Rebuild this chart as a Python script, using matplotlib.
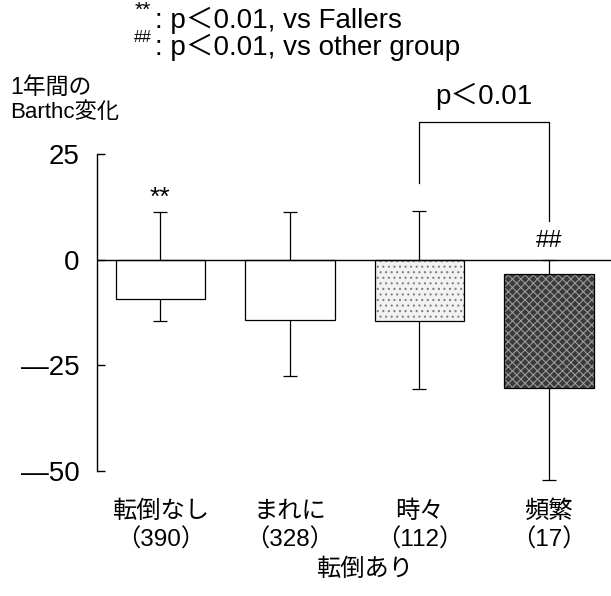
import matplotlib
matplotlib.use('Agg')
import matplotlib.pyplot as plt
import matplotlib.transforms as mtransforms
import numpy as np

plt.rcParams['font.family'] = ['Liberation Sans', 'Noto Sans CJK JP', 'DejaVu Sans']
plt.rcParams['hatch.linewidth'] = 0.8

# data
groups = ['転倒なし', 'まれに', '時々', '頻繁']
counts = ['（390）', '（328）', '（112）', '（17）']
bar_top = np.array([0, 0, 0, -3.4])
bar_bottom = np.array([-9.2, -14.2, -14.4, -30.3])
err_high = np.array([11.2, 11.3, 11.5, 0])
err_low = np.array([-14.6, -27.6, -30.7, -52.2])
y_ticks = [25, 0, -25, -50]
y_tick_labels = ['25', '0', '—25', '—50']
faces = ['white', 'white', '#f2f2f2', '#3a3a3a']
hatches = [None, None, '...', 'xxxx']
hatch_cols = ['white', 'white', '#808080', '#9a9a9a']

x = np.arange(len(groups))

fig = plt.figure(figsize=(6.11, 5.96), dpi=100)
ax = fig.add_axes([0.158, 0.2097, 0.842, 0.532])

# error bars sit behind the bars
eb = ax.errorbar(x, bar_bottom, yerr=[bar_bottom - err_low, err_high - bar_bottom],
                 fmt='none', ecolor='black', elinewidth=0.9, capsize=5, capthick=0.9, zorder=1)
for art in eb.lines[1] + eb.lines[2]:
    art.set_clip_on(False)
# fill with texture, then black outline on top
ax.bar(x, bar_bottom - bar_top, bottom=bar_top, width=0.69, color=faces,
       edgecolor=hatch_cols, linewidth=0, hatch=hatches, zorder=2)
ax.bar(x, bar_bottom - bar_top, bottom=bar_top, width=0.69, fill=False,
       edgecolor='black', linewidth=0.9, zorder=2.5)
ax.axhline(0, color='black', linewidth=1.0, zorder=3)

ax.set_xlim(-0.493, 3.48)
ax.set_ylim(-50, 25)
for s in ['top', 'right', 'bottom']:
    ax.spines[s].set_visible(False)
ax.spines['left'].set_linewidth(1.0)
ax.set_yticks(y_ticks)
ax.set_yticklabels(y_tick_labels, fontsize=20)
ax.tick_params(axis='y', direction='in', length=6, width=1.0, pad=12)
ax.set_xticks([])

# significance marks
ax.text(0, 14.5, '**', ha='center', va='center', fontsize=19)
ax.text(3, 4.5, '##', ha='center', va='center', fontsize=17)
ax.plot([2, 2, 3, 3], [18.2, 32.5, 32.5, 9.1], color='black', linewidth=0.9, clip_on=False)
ax.text(2.5, 38.7, 'p＜0.01', ha='center', va='center', fontsize=20)

# category labels under the bars
trans = mtransforms.blended_transform_factory(ax.transData, fig.transFigure)
for i in range(len(groups)):
    ax.text(x[i], 1 - 512 / 596, groups[i], transform=trans, ha='center', va='center', fontsize=17.5)
    ax.text(x[i], 1 - 540 / 596, counts[i], transform=trans, ha='center', va='center', fontsize=17.5)
fig.text(365 / 611, 1 - 570 / 596, '転倒あり', ha='center', va='center', fontsize=17.5)

# y label and legend notes
fig.text(10 / 611, 1 - 87.5 / 596, '1年間の', ha='left', va='center', fontsize=16.5)
fig.text(10 / 611, 1 - 113 / 596, 'Barthc変化', ha='left', va='center', fontsize=16)
fig.text(135 / 611, 1 - 10 / 596, '**', ha='left', va='center', fontsize=15)
fig.text(155 / 611, 1 - 28 / 596, ': p＜0.01, vs Fallers', ha='left', va='baseline', fontsize=20)
fig.text(134 / 611, 1 - 37 / 596, '##', ha='left', va='center', fontsize=11.5)
fig.text(155 / 611, 1 - 55 / 596, ': p＜0.01, vs other group', ha='left', va='baseline', fontsize=20)

fig.savefig('out.png', dpi=100)
